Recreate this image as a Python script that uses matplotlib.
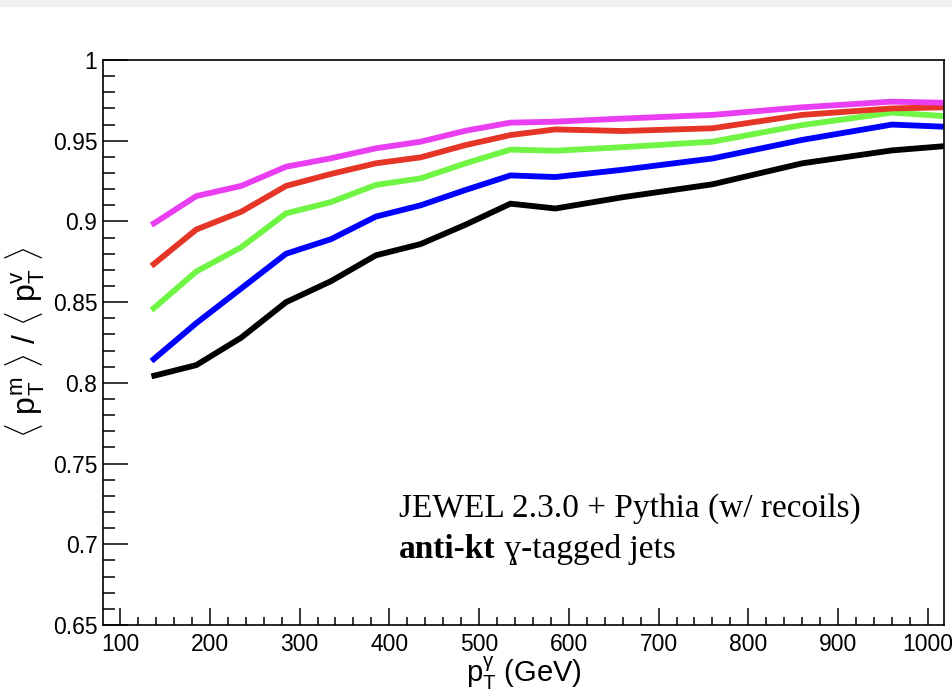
import matplotlib
matplotlib.use("Agg")
import matplotlib.pyplot as plt
from matplotlib.ticker import MultipleLocator, FormatStrFormatter
from matplotlib.patches import Rectangle

# mathtext in a Helvetica-like face, like ROOT
plt.rcParams['mathtext.fontset'] = 'custom'
plt.rcParams['mathtext.rm'] = 'Liberation Sans'
plt.rcParams['mathtext.it'] = 'Liberation Sans'
plt.rcParams['mathtext.bf'] = 'Liberation Sans:bold'
plt.rcParams['font.family'] = ['Liberation Sans', 'DejaVu Sans']

# photon pT bin centres (GeV)
pt = [135, 185, 235, 285, 335, 385, 435, 485, 535, 585, 660, 760, 860, 960, 1060]

# <pT^m>/<pT^v> for the five curves
ratio_black = [0.804, 0.811, 0.828, 0.850, 0.863, 0.879, 0.886, 0.898, 0.911, 0.908,
               0.915, 0.923, 0.936, 0.944, 0.9485]
ratio_blue = [0.8135, 0.837, 0.8585, 0.880, 0.889, 0.903, 0.910, 0.9195, 0.9285, 0.9275,
              0.932, 0.939, 0.9505, 0.960, 0.9577]
ratio_green = [0.845, 0.869, 0.884, 0.905, 0.912, 0.9226, 0.9267, 0.936, 0.9445, 0.9438,
               0.946, 0.9494, 0.9597, 0.9674, 0.9637]
ratio_red = [0.8724, 0.895, 0.906, 0.922, 0.9294, 0.936, 0.9397, 0.9473, 0.9535, 0.957,
             0.956, 0.9577, 0.966, 0.970, 0.9712]
ratio_magenta = [0.8978, 0.9157, 0.922, 0.9339, 0.9391, 0.9453, 0.9494, 0.9562, 0.9612, 0.9618,
                 0.9637, 0.966, 0.9707, 0.9742, 0.973]

fig = plt.figure(figsize=(9.53, 6.93), dpi=100)
# light grey strip at the top (screenshot frame)
fig.patches.append(Rectangle((0, 1 - 6 / 693), 1, 6 / 693, transform=fig.transFigure,
                             color='#f0f0f0', zorder=0))
ax = fig.add_axes([103 / 953, 1 - 625 / 693, (944 - 103) / 953, (625 - 60) / 693])

curves = [(ratio_black, 'black'), (ratio_blue, '#0000ff'), (ratio_green, '#70f545'),
          (ratio_red, '#e53526'), (ratio_magenta, '#e93ef2')]
for vals, col in curves:
    ax.plot(pt, vals, color=col, lw=4.2, solid_capstyle='butt', solid_joinstyle='miter')

ax.set_xlim(81, 1018)
ax.set_ylim(0.65, 1.0)

ax.xaxis.set_major_locator(MultipleLocator(100))
ax.xaxis.set_minor_locator(MultipleLocator(20))
ax.yaxis.set_major_locator(MultipleLocator(0.05))
ax.yaxis.set_minor_locator(MultipleLocator(0.01))
ax.yaxis.set_major_formatter(FormatStrFormatter('%g'))

ax.tick_params(axis='both', which='both', direction='in', width=1.1, colors='black',
               labelsize=16.5, top=False, right=False)
ax.tick_params(axis='y', which='major', length=18, pad=4)
ax.tick_params(axis='y', which='minor', length=8.5)
ax.tick_params(axis='x', which='major', length=12, pad=6)
ax.tick_params(axis='x', which='minor', length=6)
for s in ax.spines.values():
    s.set_linewidth(1.2)

ax.set_xlabel(r'$\mathrm{p}_{\mathrm{T}}^{\gamma}$ (GeV)', fontsize=21, labelpad=-1)
ax.set_ylabel(r'$\langle\ \mathrm{p}_{\mathrm{T}}^{\mathrm{m}}\ \rangle\ /\ \langle\ \mathrm{p}_{\mathrm{T}}^{\mathrm{v}}\ \rangle$',
              fontsize=23, labelpad=4)

serif = ['Liberation Serif', 'DejaVu Serif']
ax.text(411, 0.7168, 'JEWEL 2.3.0 + Pythia (w/ recoils)', fontsize=24,
        family=serif, va='baseline')
t = ax.text(411, 0.6915, 'anti-kt', fontsize=24, family=serif, fontweight='bold',
            va='baseline')
ax.annotate(' \u0263-tagged jets', xy=(1, 0), xycoords=t, fontsize=24, family=serif,
            va='bottom')

fig.savefig('out.png', dpi=100)
